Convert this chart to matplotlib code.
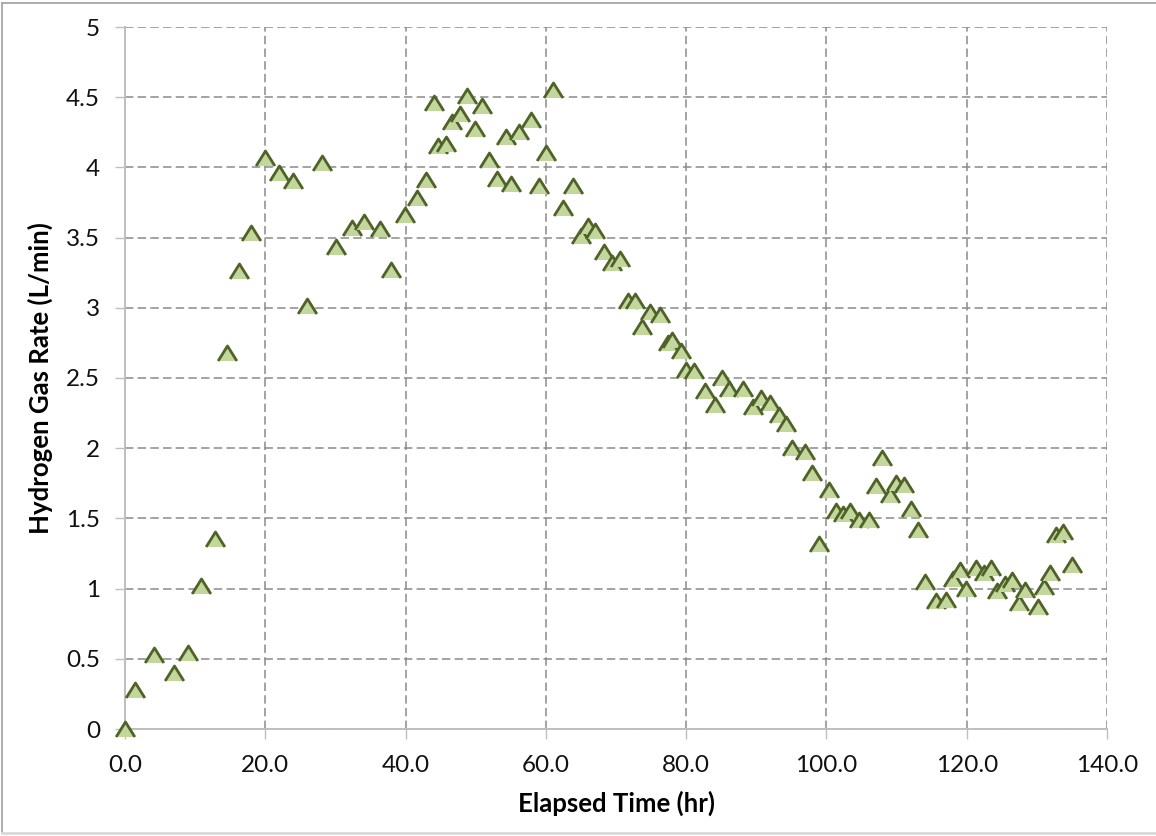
import matplotlib.pyplot as plt
from matplotlib.lines import Line2D

# elapsed time (hr) and hydrogen gas rate (L/min)
elapsed_hr = [
    0.0, 1.4, 4.1, 7.0, 9.0, 10.9, 12.9, 14.6, 16.3, 18.0,
    20.0, 22.0, 23.9, 26.0, 28.1, 30.1, 32.3, 34.1, 36.3, 37.9,
    39.9, 41.7, 42.9, 44.0, 44.6, 45.7, 46.6, 47.7, 48.7, 49.9,
    50.9, 51.9, 53.0, 54.3, 55.1, 56.1, 57.9, 59.0, 60.0, 61.0,
    62.4, 63.9, 65.0, 66.0, 67.0, 68.3, 69.4, 70.6, 71.7, 72.7,
    73.7, 74.9, 76.3, 77.4, 78.0, 79.3, 80.0, 81.1, 82.7, 84.1,
    85.1, 86.1, 88.1, 89.6, 90.7, 91.9, 93.3, 94.3, 95.1, 96.9,
    98.0, 99.0, 100.4, 101.3, 102.3, 103.3, 104.7, 106.1, 107.0, 107.9,
    109.0, 109.9, 111.0, 112.0, 113.0, 114.1, 115.6, 117.0, 118.1, 119.0,
    119.9, 121.3, 122.4, 123.4, 124.3, 125.4, 126.4, 127.4, 128.3, 130.1,
    131.0, 131.9, 132.7, 133.7, 135.0,
]
h2_rate = [
    0.00, 0.28, 0.53, 0.40, 0.54, 1.02, 1.35, 2.68, 3.26, 3.53,
    4.07, 3.96, 3.90, 3.01, 4.03, 3.43, 3.57, 3.61, 3.56, 3.27,
    3.66, 3.78, 3.91, 4.46, 4.15, 4.17, 4.32, 4.38, 4.51, 4.27,
    4.44, 4.05, 3.92, 4.22, 3.88, 4.25, 4.34, 3.87, 4.10, 4.55,
    3.71, 3.87, 3.51, 3.58, 3.55, 3.40, 3.32, 3.35, 3.05, 3.05,
    2.86, 2.97, 2.95, 2.75, 2.77, 2.69, 2.56, 2.55, 2.41, 2.31,
    2.50, 2.42, 2.42, 2.29, 2.36, 2.32, 2.24, 2.17, 2.00, 1.97,
    1.82, 1.32, 1.70, 1.55, 1.53, 1.55, 1.49, 1.49, 1.73, 1.93,
    1.67, 1.75, 1.74, 1.57, 1.42, 1.05, 0.91, 0.92, 1.07, 1.13,
    1.00, 1.15, 1.11, 1.15, 0.98, 1.03, 1.06, 0.90, 0.99, 0.87,
    1.01, 1.11, 1.38, 1.40, 1.17,
]

x_ticks = [0, 20, 40, 60, 80, 100, 120, 140]
y_ticks = [0, 0.5, 1, 1.5, 2, 2.5, 3, 3.5, 4, 4.5, 5]
y_tick_labels = ["0", "0.5", "1", "1.5", "2", "2.5", "3", "3.5", "4", "4.5", "5"]

plt.rcParams['font.family'] = ['Lato', 'DejaVu Sans']

fig = plt.figure(figsize=(11.56, 8.36), dpi=100)
ax = fig.add_axes([125 / 1156, 1 - 729 / 836, (1107 - 125) / 1156, (729 - 27) / 836])

# flattened triangle marker, wider than tall
tri = [(-1, -0.8), (0, 0.8), (1, -0.8)]
ax.plot(elapsed_hr, h2_rate, linestyle='none', marker=tri, markersize=13.5,
        markerfacecolor='#c3d69b', markeredgecolor='#4f6228', markeredgewidth=2.0,
        clip_on=False, zorder=4)

ax.set_xlim(0, 140)
ax.set_ylim(0, 5)
ax.set_xticks(x_ticks)
ax.set_xticklabels([f"{v:.1f}" for v in x_ticks])
ax.set_yticks(y_ticks)
ax.set_yticklabels(y_tick_labels)

grid_kw = dict(color='#8a8a8a', linewidth=1.1, linestyle=(0, (5.5, 2.8)))
ax.grid(True, **grid_kw)
ax.set_axisbelow(True)

for side in ['top', 'right']:
    ax.spines[side].set_visible(False)
for side in ['left', 'bottom']:
    ax.spines[side].set_color('#bfbfbf')
    ax.spines[side].set_linewidth(1.4)
    ax.spines[side].set_zorder(3)

ax.tick_params(axis='both', direction='out', length=7, width=1.0, color='#bfbfbf',
               labelsize=17.5, labelcolor='#111111')
ax.tick_params(axis='y', pad=11)
ax.tick_params(axis='x', pad=12)

ax.set_xlabel('Elapsed Time (hr)', fontsize=18.5, fontweight='bold', labelpad=10)
ax.set_ylabel('Hydrogen Gas Rate (L/min)', fontsize=18.5, fontweight='bold', labelpad=9)

# outer chart border
border = '#a6a6a6'
fig.add_artist(Line2D([2 / 1156, 2 / 1156], [1 - 3 / 836, 1 - 833 / 836],
                      transform=fig.transFigure, color=border, lw=1.3))
fig.add_artist(Line2D([2 / 1156, 1], [1 - 3 / 836, 1 - 3 / 836],
                      transform=fig.transFigure, color=border, lw=1.3))
fig.add_artist(Line2D([2 / 1156, 1], [1 - 833 / 836, 1 - 833 / 836],
                      transform=fig.transFigure, color='#d9d9d9', lw=2))

fig.savefig('out.png', dpi=100, facecolor='white')
